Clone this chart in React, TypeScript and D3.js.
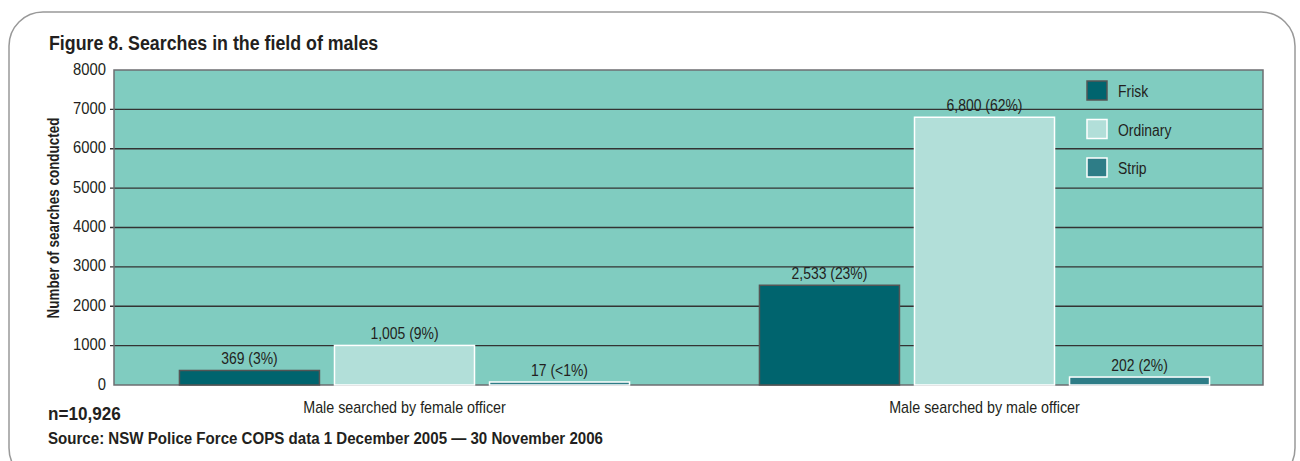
import React from "react";
import * as d3 from "d3";

const title = "Figure 8. Searches in the field of males";
const yAxisTitle = "Number of searches conducted";
const categories = ["Male searched by female officer", "Male searched by male officer"];
const seriesNames = ["Frisk", "Ordinary", "Strip"];
const friskValues = [369, 2533];
const ordinaryValues = [1005, 6800];
const stripValues = [17, 202];
const friskLabels = ["369 (3%)", "2,533 (23%)"];
const ordinaryLabels = ["1,005 (9%)", "6,800 (62%)"];
const stripLabels = ["17 (<1%)", "202 (2%)"];
const yTicks = [0, 1000, 2000, 3000, 4000, 5000, 6000, 7000, 8000];
const noteN = "n=10,926";
const noteSource = "Source: NSW Police Force COPS data 1 December 2005 \u2014 30 November 2006";

const seriesValues = [friskValues, ordinaryValues, stripValues];
const seriesLabels = [friskLabels, ordinaryLabels, stripLabels];
const fills = ["#00646e", "#b2dfd9", "#2e7d87"];
const strokes = ["#555", "#fff", "#fff"];

const FONT = "'Liberation Sans', Arial, Helvetica, sans-serif";
const SX = 0.87;

function T(props: { x: number; y: number; size: number; anchor?: string; bold?: boolean; rotate?: number; sx?: number; children: React.ReactNode }) {
  const { x, y, size, anchor = "start", bold = false, rotate = 0, sx = SX, children } = props;
  return (
    <text
      transform={`translate(${x},${y})${rotate ? ` rotate(${rotate})` : ""} scale(${sx},1)`}
      textAnchor={anchor}
      fontSize={size}
      fontWeight={bold ? "bold" : "normal"}
      fill="#231f20"
    >
      {children}
    </text>
  );
}

export default function App() {
  const W = 1300, H = 461;
  const plotL = 114, plotR = 1263, plotT = 70, plotB = 385;
  const y = d3.scaleLinear().domain([0, 8000]).range([plotB, plotT]);
  const x0 = d3.scaleBand<string>().domain(categories).range([120, 1269]).paddingInner(0.224).paddingOuter(0.1025);
  const x1 = d3.scaleBand<string>().domain(seriesNames).range([0, x0.bandwidth()]).paddingInner(0.097);

  return (
    <svg width={W} height={H} style={{ position: "absolute", left: 0, top: 0, background: "#fff" }} fontFamily={FONT}>
      <rect x={9} y={12} width={1286} height={470} rx={34} ry={34} fill="none" stroke="#999" strokeWidth={1.5} />
      <T x={49} y={50} size={20} bold sx={0.89}>{title}</T>
      {/* plot background */}
      <rect x={plotL} y={plotT} width={plotR - plotL} height={plotB - plotT} fill="#80ccc0" />
      {/* grid lines */}
      {yTicks.filter(t => t > 0 && t < 8000).map(t => (
        <line key={t} x1={plotL - 4} x2={plotR} y1={y(t)} y2={y(t)} stroke="#333" strokeWidth={1.3} />
      ))}
      <rect x={plotL} y={plotT} width={plotR - plotL} height={plotB - plotT} fill="none" stroke="#6d6e71" strokeWidth={1.5} />
      {/* y tick labels */}
      {yTicks.map(t => (
        <T key={t} x={106} y={y(t) + 4.5} anchor="end" size={17}>{t}</T>
      ))}
      <T x={59} y={218} anchor="middle" size={16} bold rotate={-90} sx={0.84}>{yAxisTitle}</T>
      {/* bars */}
      {categories.map((c, ci) => (
        <g key={c} transform={`translate(${x0(c)},0)`}>
          {seriesNames.map((s, si) => {
            const v = seriesValues[si][ci];
            const top = Math.min(y(v), plotB - 3);
            return (
              <g key={s}>
                <rect x={x1(s)} y={top} width={x1.bandwidth()} height={plotB - top} fill={fills[si]} stroke={strokes[si]} strokeWidth={1.5} />
                <T x={(x1(s) as number) + x1.bandwidth() / 2} y={top - 6} anchor="middle" size={16}>{seriesLabels[si][ci]}</T>
              </g>
            );
          })}
          <T x={x0.bandwidth() / 2} y={413} anchor="middle" size={16} sx={0.895}>{c}</T>
        </g>
      ))}
      {/* legend */}
      {seriesNames.map((s, i) => (
        <g key={s} transform={`translate(1087,${81 + i * 38.5})`}>
          <rect x={0} y={0} width={20} height={19} fill={fills[i]} stroke={strokes[i]} strokeWidth={1.5} />
          <T x={31} y={16} size={16}>{s}</T>
        </g>
      ))}
      <T x={48} y={420} size={19} bold sx={0.9}>{noteN}</T>
      <T x={48} y={444} size={17} bold sx={0.888}>{noteSource}</T>
    </svg>
  );
}
